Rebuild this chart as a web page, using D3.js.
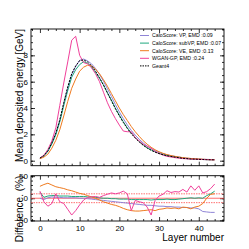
<!DOCTYPE html>
<html>
<head>
<meta charset="utf-8">
<script src="https://cdn.jsdelivr.net/npm/d3@7"></script>
<style>
  html, body { margin: 0; padding: 0; background: #fff; }
  svg { display: block; font-family: "Liberation Sans", Arial, Helvetica, sans-serif; }
  .axis text { font-size: 8px; fill: #000; }
  .axis line { stroke: #000; stroke-width: 0.8; }
  .axis path { display: none; }
</style>
</head>
<body>
<div id="chart"></div>
<script>
// layer index 0..44
const layers = d3.range(0, 45);

// mean deposited energy per layer [GeV]
const geant4 = [0.2, 0.38, 0.75, 1.35, 2.1, 3.1, 4.4, 5.6, 6.6, 7.2, 7.6, 7.65, 7.5, 7.2, 6.8, 6.3, 5.75, 5.15, 4.55, 3.95,
  3.4, 2.9, 2.45, 2.05, 1.72, 1.42, 1.17, 0.96, 0.79, 0.65, 0.54, 0.45, 0.38, 0.32, 0.27, 0.23, 0.18, 0.16, 0.13, 0.12,
  0.1, 0.09, 0.08, 0.07, 0.07];
const caloVP = [0.2, 0.39, 0.74, 1.31, 2.06, 3.04, 4.35, 5.55, 6.55, 7.15, 7.62, 7.72, 7.58, 7.35, 7.0, 6.55, 6.04, 5.46, 4.87, 4.27,
  3.7, 3.19, 2.72, 2.3, 1.94, 1.62, 1.35, 1.11, 0.92, 0.76, 0.64, 0.53, 0.45, 0.38, 0.32, 0.28, 0.22, 0.19, 0.16, 0.14,
  0.12, 0.11, 0.1, 0.09, 0.09];
const caloSubVP = [0.17, 0.37, 0.71, 1.27, 1.97, 2.95, 4.18, 5.32, 6.34, 6.91, 7.3, 7.52, 7.4, 7.1, 6.7, 6.25, 5.75, 5.15, 4.6, 3.99,
  3.47, 2.96, 2.5, 2.11, 1.77, 1.46, 1.2, 0.99, 0.82, 0.67, 0.56, 0.46, 0.39, 0.33, 0.28, 0.24, 0.19, 0.16, 0.13, 0.12,
  0.1, 0.09, 0.08, 0.07, 0.06];
const caloVE = [0.15, 0.27, 0.5, 0.95, 1.55, 2.35, 3.4, 4.5, 5.5, 6.2, 6.8, 7.1, 7.25, 7.2, 6.95, 6.6, 6.15, 5.65, 5.1, 4.55,
  4.0, 3.5, 3.05, 2.6, 2.2, 1.85, 1.52, 1.25, 1.02, 0.83, 0.68, 0.56, 0.46, 0.39, 0.33, 0.28, 0.23, 0.2, 0.17, 0.15,
  0.13, 0.11, 0.09, 0.08, 0.07];
const wgan = [0.2, 0.42, 0.85, 1.5, 2.5, 4.2, 5.9, 7.5, 9.15, 9.45, 8.0, 7.45, 7.35, 7.05, 6.6, 6.0, 5.2, 4.4, 3.75, 3.2,
  2.7, 2.25, 2.2, 2.2, 1.75, 1.5, 1.25, 1.1, 0.95, 0.7, 0.55, 0.42, 0.33, 0.28, 0.23, 0.19, 0.16, 0.14, 0.12, 0.11,
  0.1, 0.09, 0.08, 0.07, 0.06];

// difference to Geant4 per layer [%]
const diffVP = [0, -3, 1, 3, 2, 2, 1, 1, 1, 1, 0, 0, -1, -2, -3, -4, -5, -6, -7, -8,
  -9, -10, -11, -12, -13, -14, -15, -16, -16, -17, -18, -18, -19, -19, -20, -20, -21, -21, -22, -22,
  -24, -30, -31, -32, -32];
const diffSubVP = [14, 2, 5, 6, 6, 5, 5, 5, 4, 4, 4, 4, 3, 3, 2, 1, 0, 0, -1, -1,
  -2, -2, -2, -3, -3, -3, -3, -3, -4, -3, -3, -3, -2, -3, -3, -2, -1, 0, 1, 0,
  1, 0, 6, 10, 16];
const diffVE = [27, 31, 34, 30, 26, 24, 22, 19, 17, 14, 11, 9, 6, 3, 0, -4, -8, -11, -14, -16,
  -19, -23, -26, -28, -29, -29, -28, -27, -26, -28, -25, -24, -22, -23, -22, -24, -20, -21, -24, -20,
  -18, -12, 0, 9, 10];
const diffWGAN = [16, -8, -18, -12, 10, -8, -12, -25, -38, -28, -15, -4, 2, 3, 4, 2, 6, 9, 12, 10,
  12, 16, 10, -28, -5, -8, -10, -20, -38, -5, 5, 9, 17, 13, 15, 14, 20, 14, 28, 18,
  28, 12, 15, 22, 32];

const seriesNames = ["CaloScore: VP, EMD :0.09", "CaloScore: subVP, EMD :0.07", "CaloScore: VE, EMD :0.13", "WGAN-GP, EMD :0.24", "Geant4"];
const seriesColors = ["#8f84d6", "#1fa87e", "#ef7a1e", "#f0409a", "#000000"];

const xMajor = [0, 10, 20, 30, 40];
const xMinor = [-2, 2, 4, 6, 8, 12, 14, 16, 18, 22, 24, 26, 28, 32, 34, 36, 38, 42, 44, 46];
const yTopMajor = [0, 2, 4, 6, 8];
const yTopMinor = d3.range(0, 10.01, 0.5);
const yBotMajor = [-50, 0, 50];
const yBotMinor = d3.range(-50, 51, 10);
const refLines = [-10, 0, 10];

const W = 249, H = 249;
const left = 31, right = 224;
const top1 = 29, bot1 = 165.7;
const top2 = 175.7, bot2 = 221;

const svg = d3.select("#chart").append("svg")
  .attr("width", W)
  .attr("height", H);

const x = d3.scaleLinear().domain([-2.25, 46.35]).range([left, right]);
const yTop = d3.scaleLinear().domain([-0.38, 10]).range([bot1, top1]);
const yBot = d3.scaleLinear().domain([-51.5, 51]).range([bot2, top2]);

// draw a framed panel with inward ticks on every side
function frame(y, yt, yb, yMaj, yMin, showX, yFmt) {
  const g = svg.append("g").attr("class", "axis");
  g.append("g").attr("transform", `translate(0,${yb})`)
    .call(d3.axisBottom(x).tickValues(xMajor).tickSize(-4).tickPadding(4)
      .tickFormat(showX ? d3.format("d") : ""));
  g.append("g").attr("transform", `translate(0,${yb})`)
    .call(d3.axisBottom(x).tickValues(xMinor.filter(v => x(v) > left && x(v) < right)).tickSize(-2).tickFormat(""));
  g.append("g").attr("transform", `translate(0,${yt})`)
    .call(d3.axisTop(x).tickValues(xMajor).tickSize(-4).tickFormat(""));
  g.append("g").attr("transform", `translate(0,${yt})`)
    .call(d3.axisTop(x).tickValues(xMinor.filter(v => x(v) > left && x(v) < right)).tickSize(-2).tickFormat(""));
  g.append("g").attr("transform", `translate(${left},0)`)
    .call(d3.axisLeft(y).tickValues(yMaj).tickSize(-4).tickPadding(3).tickFormat(yFmt));
  g.append("g").attr("transform", `translate(${left},0)`)
    .call(d3.axisLeft(y).tickValues(yMin).tickSize(-2).tickFormat(""));
  g.append("g").attr("transform", `translate(${right},0)`)
    .call(d3.axisRight(y).tickValues(yMaj).tickSize(-4).tickFormat(""));
  g.append("g").attr("transform", `translate(${right},0)`)
    .call(d3.axisRight(y).tickValues(yMin).tickSize(-2).tickFormat(""));
  svg.append("rect")
    .attr("x", left).attr("y", yt)
    .attr("width", right - left).attr("height", yb - yt)
    .attr("fill", "none").attr("stroke", "#000").attr("stroke-width", 0.9);
}

frame(yTop, top1, bot1, yTopMajor, yTopMinor, false, d3.format("d"));
frame(yBot, top2, bot2, yBotMajor, yBotMinor, true, d3.format("d"));

// top panel curves
const lineTop = d3.line().x((d, i) => x(layers[i])).y(d => yTop(d));
const topSeries = [caloVP, caloSubVP, caloVE, wgan, geant4];
topSeries.forEach((s, k) => {
  svg.append("path")
    .datum(s)
    .attr("d", lineTop)
    .attr("fill", "none")
    .attr("stroke", seriesColors[k])
    .attr("stroke-width", 1)
    .attr("stroke-dasharray", k === 4 ? "2,1.2" : null);
});

// bottom panel: reference lines
svg.append("g").selectAll("line")
  .data(refLines)
  .join("line")
  .attr("x1", left).attr("x2", right)
  .attr("y1", d => yBot(d)).attr("y2", d => yBot(d))
  .attr("stroke", "#ff4b4b")
  .attr("stroke-width", 0.8)
  .attr("stroke-dasharray", d => d === 0 ? null : "1.5,1");

const lineBot = d3.line().x((d, i) => x(layers[i])).y(d => yBot(d));
const botSeries = [diffVP, diffSubVP, diffVE, diffWGAN];
botSeries.forEach((s, k) => {
  svg.append("path")
    .datum(s)
    .attr("d", lineBot)
    .attr("fill", "none")
    .attr("stroke", seriesColors[k])
    .attr("stroke-width", 1);
});

// legend
const leg = svg.append("g").attr("transform", "translate(140,35.5)");
seriesNames.forEach((name, k) => {
  const row = leg.append("g").attr("transform", `translate(0,${k * 7.6})`);
  row.append("line")
    .attr("x1", 0).attr("x2", 9)
    .attr("stroke", seriesColors[k])
    .attr("stroke-width", 1)
    .attr("stroke-dasharray", k === 4 ? "1.5,1" : null);
  row.append("text")
    .attr("x", 12).attr("y", 1.8)
    .attr("font-size", 5.2)
    .text(name);
});

// axis titles
svg.append("text")
  .attr("transform", `translate(23,${top1}) rotate(-90)`)
  .attr("text-anchor", "end")
  .attr("font-size", 10)
  .text("Mean deposited energy [GeV]");

svg.append("text")
  .attr("transform", `translate(23,${top2}) rotate(-90)`)
  .attr("text-anchor", "end")
  .attr("font-size", 10)
  .text("Difference. (%)");

svg.append("text")
  .attr("x", right).attr("y", 240.5)
  .attr("text-anchor", "end")
  .attr("font-size", 10)
  .text("Layer number");
</script>
</body>
</html>
